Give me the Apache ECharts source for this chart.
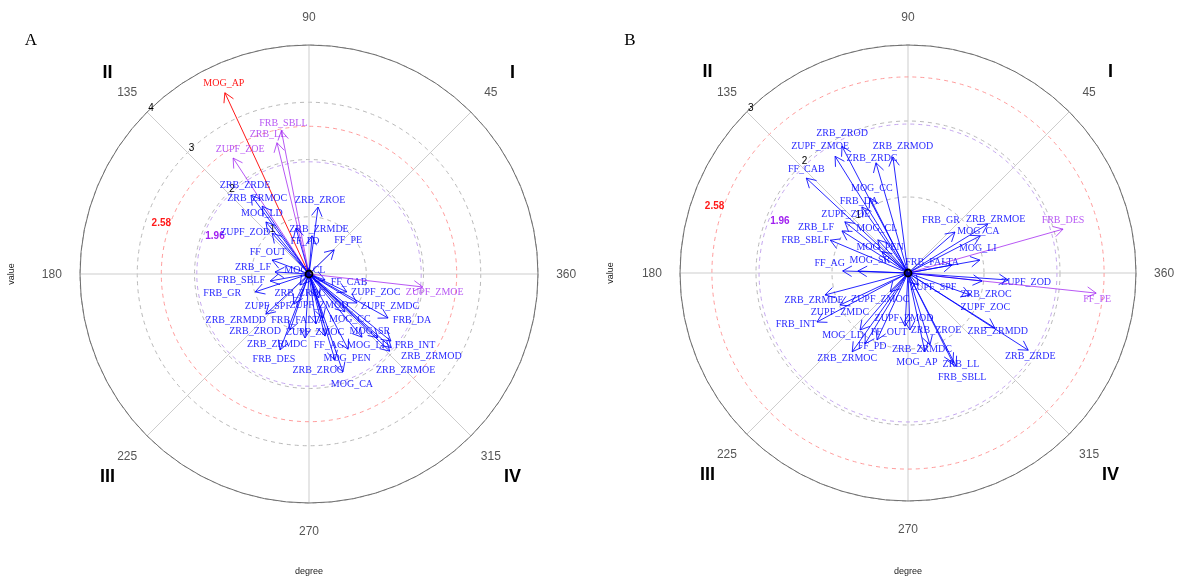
<!DOCTYPE html>
<html>
<head>
<meta charset="utf-8">
<script src="https://cdn.jsdelivr.net/npm/echarts@6/dist/echarts.min.js"></script>
<style>
  html, body { margin: 0; padding: 0; background: #ffffff; }
  #chart { width: 1183px; height: 578px; }
</style>
</head>
<body>
<div id="chart"></div>
<script>
// Variable names shared by both panels
const variables = [
  'MOG_AP', 'FRB_SBLL', 'ZRB_LL', 'ZUPF_ZOE', 'ZRB_ZRDE', 'ZRB_ZRMOC', 'MOG_LD', 'ZRB_ZROE',
  'ZUPF_ZOD', 'ZRB_ZRMDE', 'FF_PD', 'FF_PE', 'FF_OUT', 'ZRB_LF', 'MOG_CL', 'FRB_SBLF',
  'FRB_GR', 'FF_CAB', 'ZUPF_ZMOE', 'ZRB_ZRDC', 'ZUPF_ZOC', 'ZUPF_SPF', 'ZUPF_ZMOD', 'ZUPF_ZMDC',
  'ZRB_ZRMDD', 'FRB_FALTA', 'MOG_CC', 'FRB_DA', 'ZRB_ZROD', 'ZUPF_ZMOC', 'MOG_SR', 'ZRB_ZRMDC',
  'FRB_DES', 'FF_AG', 'MOG_LI', 'MOG_PEN', 'FRB_INT', 'ZRB_ZRMOD', 'ZRB_ZROC', 'MOG_CA', 'ZRB_ZRMOE'
];

// Panel A: vector length (value) and direction (degree)
const valueA = [
  3.49, 2.55, 2.36, 2.42, 1.71, 1.44, 1.18, 1.18,
  0.96, 0.835, 0.67, 0.61, 0.69, 0.595, 0.09, 0.69,
  0.99, 0.30, 2.00, 0.25, 0.73, 0.59, 0.45, 0.98,
  1.03, 0.81, 0.91, 1.58, 1.03, 0.88, 1.64, 1.12,
  1.42, 1.12, 1.44, 1.48, 1.85, 1.93, 1.57, 1.81, 1.95
];
const degreeA = [
  114.9, 100.9, 103.7, 123.2, 126.3, 124.6, 129.6, 82.3,
  132.1, 105.8, 85.5, 43.8, 159.3, 176.6, 216.9, 190.2,
  198.4, 339.4, 353.5, 230.7, 334.7, 243.4, 292.6, 328.9,
  222.9, 287.7, 313.5, 330.9, 251.3, 278.0, 317.2, 266.4,
  249.1, 284.5, 310.0, 297.5, 320.7, 318.2, 286.8, 289.1, 316.3
];

// Panel B: vector length (value) and direction (degree)
const valueB = [
  1.06, 1.38, 1.32, 1.07, 1.88, 1.27, 0.98, 0.75,
  1.32, 1.13, 1.09, 2.49, 0.97, 1.03, 0.59, 1.11,
  0.82, 1.83, 1.81, 1.51, 0.87, 0.21, 0.70, 0.99,
  1.35, 0.59, 1.11, 1.06, 1.88, 0.34, 0.66, 0.99,
  2.12, 0.86, 0.96, 0.44, 1.36, 1.54, 0.98, 1.07, 1.23
];
const degreeB = [
  282.1, 297.3, 296.6, 141.0, 327.3, 234.7, 229.9, 272.0,
  356.0, 194.8, 238.8, 353.9, 245.2, 147.5, 132.3, 157.1,
  41.1, 137.0, 122.0, 106.2, 340.5, 310.0, 266.8, 205.2,
  327.7, 10.3, 116.9, 124.9, 117.5, 226.5, 177.7, 287.0,
  15.8, 178.2, 10.2, 141.0, 208.3, 97.4, 353.8, 27.2, 31.5
];

// Label placement (pixel nudge of each name from its arrow tip)
const labelNudgeA = [
  [-1,-9], [2,-7], [-9,-8], [7,-9], [-6,-10], [-5,-8], [-4,-9], [2,-7],
  [-27,-1], [23,1], [-7,6], [14,-9], [-4,-8], [-22,-5], [0,-7], [-29,-1],
  [-33,1], [24,2], [12,5], [0,8], [29,1], [-26,2], [0,8], [33,3],
  [-30,6], [-25,2], [5,8], [24,2], [-35,2], [-1,8], [-8,-6], [-28,6],
  [-6,9], [4,9], [4,8], [-1,9], [24,4], [40,9], [-17,10], [9,12], [16,19]
];
const labelNudgeB = [
  [-8,11], [6,11], [8,2], [1,-7], [2,6], [-5,7], [-17,5], [26,0],
  [18,2], [-11,5], [7,3], [1,6], [12,-8], [-26,-4], [-1,-11], [-25,0],
  [-14,-12], [0,-9], [-15,-10], [-4,-4], [15,12], [15,2], [-1,-8], [0,7],
  [3,4], [-20,-3], [2,-9], [-3,-6], [0,-13], [-10,8], [12,-11], [-8,4],
  [0,-9], [-13,-8], [-2,-12], [-2,-5], [-21,2], [10,-11], [4,13], [-2,-4], [8,-5]
];

// Axis ticks and annotations
const angleTicks = [0, 45, 90, 135, 180, 225, 270, 315];
const angleTickLabels = ['360', '45', '90', '135', '180', '225', '270', '315'];
const quadrantAngles = [45, 135, 225, 315];
const quadrantLabels = ['I', 'II', 'III', 'IV'];
const criticalValues = [2.58, 1.96];
const criticalLabels = ['2.58', '1.96'];

const panels = [
  { name: 'A', center: [309, 274], radius: 229, max: 4, value: valueA, degree: degreeA, nudge: labelNudgeA },
  { name: 'B', center: [908, 273], radius: 228, max: 3, value: valueB, degree: degreeB, nudge: labelNudgeB }
];

const SERIF = '"Liberation Serif", "DejaVu Serif", serif';
const SANS = '"Liberation Sans", Arial, sans-serif';

function arrowColor(v) {
  if (v >= criticalValues[0]) return 'rgba(255,0,0,0.9)';
  if (v >= criticalValues[1]) return 'rgba(160,32,240,0.75)';
  return 'rgba(0,0,255,0.85)';
}

const polar = [], angleAxis = [], radiusAxis = [], series = [], graphic = [];

panels.forEach((p, k) => {
  const base = k * 3;
  // main grid, 2.58 ring, 1.96 ring
  polar.push({ center: p.center, radius: p.radius });
  polar.push({ center: p.center, radius: p.radius * criticalValues[0] / p.max });
  polar.push({ center: p.center, radius: p.radius * criticalValues[1] / p.max });

  angleAxis.push({
    polarIndex: base, type: 'value', min: 0, max: 360, interval: 45,
    startAngle: 0, clockwise: false,
    axisLine: { lineStyle: { color: '#6e6e6e', width: 1 } },
    axisTick: { show: false }, axisLabel: { show: false },
    splitLine: { show: true, lineStyle: { color: '#cdcdcd', width: 1 } }
  });
  radiusAxis.push({
    polarIndex: base, type: 'value', min: 0, max: p.max, interval: 1,
    axisLine: { show: false }, axisTick: { show: false }, axisLabel: { show: false },
    splitLine: { show: true, lineStyle: { color: '#b9b9b9', width: 1, type: [4, 4] } }
  });
  const ringColors = ['#ff9c9c', '#c4a6ef'];
  [1, 2].forEach(j => {
    angleAxis.push({
      polarIndex: base + j, type: 'value', min: 0, max: 360, startAngle: 0, clockwise: false,
      axisLine: { lineStyle: { color: ringColors[j - 1], width: 1, type: [4, 4] } },
      axisTick: { show: false }, axisLabel: { show: false }, splitLine: { show: false }
    });
    radiusAxis.push({ polarIndex: base + j, type: 'value', min: 0, max: 1, show: false });
  });

  // vectors with open arrow heads and their names
  series.push({
    type: 'custom', coordinateSystem: 'polar', polarIndex: base, clip: false, silent: true, z: 5,
    data: p.value.map((v, i) => [v, p.degree[i]]),
    renderItem(params, api) {
      const v = api.value(0), a = api.value(1);
      const o = api.coord([0, a]);
      const t = api.coord([v, a]);
      const col = arrowColor(v);
      const ang = Math.atan2(t[1] - o[1], t[0] - o[0]);
      const h = 10.5, spread = Math.PI / 6;
      const h1 = [t[0] - h * Math.cos(ang - spread), t[1] - h * Math.sin(ang - spread)];
      const h2 = [t[0] - h * Math.cos(ang + spread), t[1] - h * Math.sin(ang + spread)];
      const n = p.nudge[params.dataIndex];
      return {
        type: 'group',
        children: [
          { type: 'line', shape: { x1: o[0], y1: o[1], x2: t[0], y2: t[1] }, style: { stroke: col, lineWidth: 1 } },
          { type: 'polyline', shape: { points: [h1, t, h2] }, style: { stroke: col, fill: null, lineWidth: 1 } },
          { type: 'text', x: t[0] + n[0], y: t[1] + n[1],
            style: { text: variables[params.dataIndex], fill: col, font: '10px ' + SERIF, align: 'center', verticalAlign: 'middle' } }
        ]
      };
    }
  });

  // origin marker
  series.push({
    type: 'custom', coordinateSystem: 'polar', polarIndex: base, clip: false, silent: true, z: 6,
    data: [[0, 0]],
    renderItem(params, api) {
      const c = api.coord([0, 0]);
      return { type: 'circle', shape: { cx: c[0], cy: c[1], r: 3.5 }, style: { stroke: '#000', fill: 'rgba(0,0,0,0.35)', lineWidth: 1.8 } };
    }
  });

  // text placed in polar coordinates
  function textLayer(data, texts, font, color, dx, dy) {
    return {
      type: 'custom', coordinateSystem: 'polar', polarIndex: base, clip: false, silent: true, z: 4,
      data: data,
      renderItem(params, api) {
        const c = api.coord([api.value(0), api.value(1)]);
        return { type: 'text', x: c[0] + dx, y: c[1] + dy,
          style: { text: texts[params.dataIndex], fill: color, font: font, align: 'center', verticalAlign: 'middle' } };
      }
    };
  }
  series.push(textLayer(angleTicks.map(a => [p.max * 1.123, a]), angleTickLabels, '12px ' + SANS, '#555555', 0, 1));
  series.push(textLayer(quadrantAngles.map(a => [p.max * 1.25, a]), quadrantLabels, 'bold 18px ' + SANS, '#000000', 1, 1));
  const rings = [];
  for (let v = 1; v <= p.max; v++) rings.push(v);
  series.push(textLayer(rings.map(v => [v, 135]), rings.map(String), '10px ' + SANS, '#000000', 4, -4));
  series.push(textLayer([[criticalValues[0], 161]], [criticalLabels[0]], 'bold 10px ' + SANS, '#ff1a1a', -8, -3));
  series.push(textLayer([[criticalValues[1], 158]], [criticalLabels[1]], 'bold 10px ' + SANS, '#a020f0', 10, 4));

  // panel letter and axis titles
  graphic.push({ type: 'text', x: p.center[0] - 278, y: 41,
    style: { text: p.name, font: '17px ' + SERIF, fill: '#000', align: 'center', verticalAlign: 'middle' } });
  graphic.push({ type: 'text', x: p.center[0], y: 572,
    style: { text: 'degree', font: '9px ' + SANS, fill: '#222', align: 'center', verticalAlign: 'middle' } });
  graphic.push({ type: 'text', x: p.center[0] - 297, y: p.center[1], rotation: Math.PI / 2,
    style: { text: 'value', font: '9px ' + SANS, fill: '#222', align: 'center', verticalAlign: 'middle' } });
});

const chart = echarts.init(document.getElementById('chart'), null, { renderer: 'canvas' });
chart.setOption({
  backgroundColor: '#ffffff',
  animation: false,
  polar, angleAxis, radiusAxis, series, graphic
});
</script>
</body>
</html>
